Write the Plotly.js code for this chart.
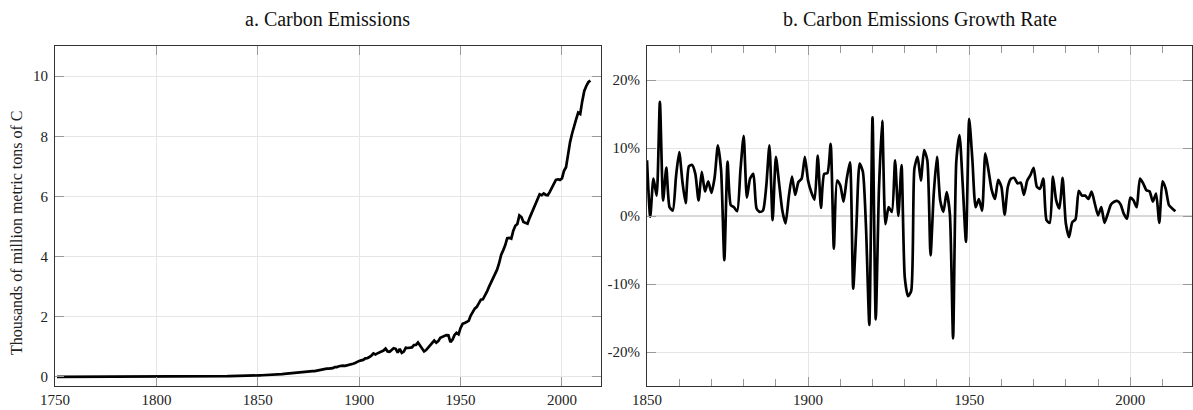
<!DOCTYPE html>
<html>
<head>
<meta charset="utf-8">
<script src="https://cdn.plot.ly/plotly-3.0.1.min.js"></script>
<style>html,body{margin:0;padding:0;background:#fff;}#chart{width:1193px;height:410px;}</style>
</head>
<body>
<div id="chart"></div>
<script>
// ---- Data ----
const emissionsStartYear = 1751;
// Global carbon emissions, thousands of million metric tons of C (1751-2014)
const emissions = [
  0.003,0.003,0.003,0.003,0.003,0.003,0.003,0.003,0.003,0.003,
  0.003,0.003,0.003,0.003,0.003,0.003,0.003,0.003,0.003,0.003,
  0.004,0.004,0.004,0.004,0.004,0.004,0.004,0.004,0.004,
  0.005,0.005,0.005,0.005,0.005,0.005,0.005,0.005,0.005,0.005,0.005,
  0.006,0.006,0.006,0.006,0.006,0.006,
  0.007,0.007,0.007,
  0.008,0.008,0.010,0.009,0.009,0.009,0.010,0.010,0.010,0.010,
  0.010,0.011,0.011,0.011,0.011,0.012,0.013,0.014,0.014,0.014,
  0.014,0.014,0.015,0.016,0.016,0.017,0.017,0.018,0.018,0.018,
  0.024,0.023,0.023,0.024,0.024,0.025,0.029,0.029,0.030,0.031,
  0.033,0.034,0.036,0.037,0.039,0.043,0.043,0.046,0.047,0.050,
  0.054,0.054,0.057,0.059,0.069,0.071,0.076,0.077,0.078,0.083,
  0.091,0.095,0.097,0.104,0.112,0.119,0.122,0.130,0.135,0.142,
  0.147,0.156,0.173,0.184,0.174,0.188,0.191,0.194,0.196,0.210,
  0.236,0.243,0.256,0.272,0.275,0.277,0.281,0.295,0.327,0.327,
  0.356,0.372,0.374,0.370,0.383,0.406,0.419,0.440,0.465,0.507,
  0.534,0.552,0.566,0.617,0.624,0.663,0.707,0.784,0.750,0.785,
  0.819,0.836,0.879,0.943,0.850,0.838,0.901,0.955,0.936,0.806,
  0.932,0.803,0.845,0.970,0.963,0.975,0.983,1.062,1.065,1.145,
  1.053,0.940,0.847,0.893,0.973,1.027,1.130,1.209,1.142,1.192,
  1.299,1.334,1.342,1.391,1.383,1.160,1.238,1.392,1.469,1.419,
  1.630,1.767,1.795,1.841,1.865,2.042,2.177,2.270,2.330,2.454,
  2.569,2.580,2.686,2.833,2.995,3.130,3.288,3.393,3.566,3.780,
  4.053,4.208,4.376,4.614,4.623,4.596,4.864,5.026,5.087,5.369,
  5.315,5.152,5.113,5.094,5.280,5.439,5.607,5.752,5.965,6.070,
  6.040,6.100,6.050,6.040,6.150,6.290,6.430,6.550,6.570,6.550,
  6.600,6.850,6.970,7.416,7.807,8.093,8.370,8.566,8.783,8.740,
  9.167,9.508,9.672,9.796,9.855
];

const growthStartYear = 1850;
// Annual growth rate of carbon emissions, percent (1850-2014)
const growthRate = [
  8.2,-0.1,5.5,3.0,16.8,2.3,7.1,1.3,0.8,5.8,
  9.4,5.0,1.9,7.3,7.5,6.2,2.3,6.5,3.6,5.1,
  3.4,5.7,10.4,6.7,-6.5,8.0,1.6,1.3,0.7,6.7,
  11.8,2.7,5.5,6.2,1.1,0.6,0.8,4.3,10.4,-0.6,
  8.7,4.8,0.8,-1.1,2.8,5.8,3.1,5.0,5.5,8.7,
  5.2,3.5,2.4,8.9,1.2,6.2,6.3,10.6,-4.8,5.2,
  4.5,2.1,5.5,7.9,-10.7,-1.5,7.7,6.5,-2.0,-16.0,
  14.5,-15.2,4.0,14.0,-1.2,1.3,0.6,8.2,0.0,7.5,
  -9.0,-11.8,-11.0,7.0,8.7,5.2,9.7,8.2,-5.8,3.3,
  8.7,2.3,0.6,3.5,0.3,-18.0,8.0,11.9,4.5,-3.8,
  14.3,8.2,1.3,2.5,0.8,9.2,6.7,3.8,2.5,5.3,
  4.3,0.2,4.3,5.5,5.6,4.8,4.9,3.1,5.2,6.0,
  7.1,4.3,4.0,5.5,-0.6,-1.0,5.8,2.3,1.1,5.6,
  -1.1,-3.1,-0.9,-0.5,3.7,3.0,3.0,2.5,3.6,1.8,
  0.1,1.3,-1.0,0.3,1.7,2.1,2.2,1.7,0.3,-0.4,
  2.7,2.3,1.3,5.5,4.8,3.8,3.6,2.1,3.3,-1.0,
  5.1,4.0,1.6,1.1,0.7
];

const leftTitle = "a. Carbon Emissions";
const rightTitle = "b. Carbon Emissions Growth Rate";
const leftYTitle = "Thousands of million metric tons of C";
const growthTickVals = [-20, -10, 0, 10, 20];
const growthTickText = ["-20%", "-10%", "0%", "10%", "20%"];

const emissionYears = emissions.map((_, i) => emissionsStartYear + i);
const growthYears = growthRate.map((_, i) => growthStartYear + i);

// ---- Layout helpers ----
const W = 1193, H = 410;
const px = v => v / W;
const py = v => 1 - v / H;
const FONT = "Liberation Serif, Times New Roman, serif";

const gridColor = "#e6e6e6";
const lineColor = "#333333";
const tickColor = "#999999";

const axisCommon = {
  showline: true, linecolor: lineColor, linewidth: 1, mirror: "ticks",
  ticks: "inside", ticklen: 9, tickcolor: tickColor, tickwidth: 1,
  showgrid: true, gridcolor: gridColor, gridwidth: 1,
  zeroline: false,
  tickfont: {family: FONT, size: 15, color: "#222"},
  ticklabelstandoff: 3
};

const traces = [
  {
    x: emissionYears, y: emissions, type: "scatter", mode: "lines",
    line: {color: "#000", width: 2.7}, xaxis: "x", yaxis: "y",
    hoverinfo: "skip"
  },
  {
    x: growthYears, y: growthRate, type: "scatter", mode: "lines",
    line: {color: "#000", width: 2.7, shape: "spline", smoothing: 0.6},
    xaxis: "x2", yaxis: "y2", hoverinfo: "skip"
  }
];

const layout = {
  width: W, height: H,
  margin: {l: 0, r: 0, t: 0, b: 0},
  paper_bgcolor: "#fff", plot_bgcolor: "#fff",
  showlegend: false,
  xaxis: Object.assign({}, axisCommon, {
    domain: [px(55), px(600.5)], range: [1750, 2019],
    tick0: 1750, dtick: 50, anchor: "y", ticklabelstandoff: 0
  }),
  yaxis: Object.assign({}, axisCommon, {
    domain: [py(386), py(46)], range: [-0.3, 11],
    tick0: 0, dtick: 2, anchor: "x"
  }),
  xaxis2: Object.assign({}, axisCommon, {
    domain: [px(647), px(1191.5)], range: [1850, 2019],
    tick0: 1850, dtick: 50, anchor: "y2", ticklabelstandoff: 0,
    minor: {dtick: 10, tick0: 1850, ticks: "inside", ticklen: 7, tickcolor: tickColor, showgrid: false}
  }),
  yaxis2: Object.assign({}, axisCommon, {
    domain: [py(386), py(46)], range: [-25, 25],
    tickmode: "array", tickvals: growthTickVals, ticktext: growthTickText,
    anchor: "x2",
    zeroline: true, zerolinecolor: "#d8d8d8", zerolinewidth: 1.2
  }),
  annotations: [
    {text: leftTitle, xref: "paper", yref: "paper", x: px(327.5), y: py(19),
     xanchor: "center", yanchor: "middle", showarrow: false,
     font: {family: FONT, size: 20, color: "#111"}},
    {text: rightTitle, xref: "paper", yref: "paper", x: px(919.5), y: py(19),
     xanchor: "center", yanchor: "middle", showarrow: false,
     font: {family: FONT, size: 20, color: "#111"}},
    {text: leftYTitle, xref: "paper", yref: "paper", x: px(17), y: py(233),
     xanchor: "center", yanchor: "middle", showarrow: false, textangle: -90,
     font: {family: FONT, size: 16, color: "#222"}}
  ]
};

Plotly.newPlot("chart", traces, layout, {displayModeBar: false, staticPlot: true});
</script>
</body>
</html>
